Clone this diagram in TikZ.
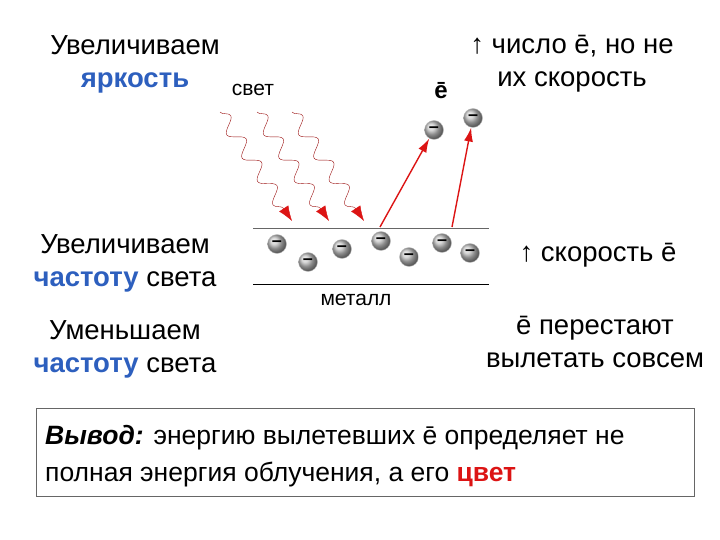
\documentclass[tikz,border=0pt]{standalone}
\usepackage{fontspec}
\setmainfont{Liberation Sans}
\usetikzlibrary{decorations.pathmorphing,arrows.meta}
\definecolor{myblue}{RGB}{45,95,190}
\definecolor{myred}{RGB}{220,20,20}
\begin{document}
\begin{tikzpicture}[x=1pt,y=-1pt,
  lbl/.style={font=\fontsize{27.5}{33}\selectfont,align=center,inner sep=0},
  el/.style={circle,minimum size=19,inner sep=0,ball color=gray!45,draw=gray!50,
     font=\bfseries\fontsize{18}{18}\selectfont,text=black},
  wave/.style={myred!70!black,thin,decorate,decoration={snake,amplitude=7,segment length=28,post length=14},-{Latex[length=15,width=11,fill=myred,color=myred]}},
  shoot/.style={myred,line width=1.4,-{Latex[length=14,width=9]}}]
\useasboundingbox (0,0) rectangle (720,540);
\node[lbl] (t1) at (135,64) {Увеличиваем\\\textcolor{myblue}{\textbf{яркость}}};
\node[font=\fontsize{21}{21}\selectfont] (svet) at (253,90) {свет};
\node[font=\bfseries\fontsize{24}{24}\selectfont] (ebar) at (441,91) {ē};
\node[lbl] (t2) at (572,64) {↑ число ē, но не\\их скорость};
\node[lbl] (t3) at (125,263) {Увеличиваем\\\textcolor{myblue}{\textbf{частоту}} света};
\node[lbl] (t4) at (598,255) {↑ скорость ē};
\node[lbl] (t5) at (125,349) {Уменьшаем\\\textcolor{myblue}{\textbf{частоту}} света};
\node[lbl] (t6) at (595,342) {ē перестают\\вылетать совсем};
\coordinate (m1) at (253,229); \coordinate (m2) at (489,229);
\coordinate (m3) at (253,284); \coordinate (m4) at (489,284);
\draw[gray!80!black,line width=1] (m1) -- (m2);
\draw[line width=1] (m3) -- (m4);
\node[font=\fontsize{21}{21}\selectfont] (met) at (356,300) {металл};
\foreach \n/\x/\y in {a/277/244,b/308/262,c/342/249,d/381/241,e/409/257,f/442/243,g/470/253,h/434/130,i/473/118}
  \node[el] (e\n) at (\x,\y) {–};
\foreach \n/\x in {1/220,2/257,3/292}{
  \coordinate (ws\n) at (\x,112);
  \coordinate (we\n) at (\x+72,221);
  \draw[wave] (ws\n) -- (we\n);}
\coordinate (s1) at (380,227); \coordinate (s2) at (452,227);
\draw[shoot] (s1) -- (eh);
\draw[shoot] (s2) -- (ei);
\node[draw=gray!80!black,line width=1,minimum width=658,minimum height=88,anchor=north west,inner sep=0] (box) at (36,408) {};
\node[anchor=west,align=left,inner sep=0,font=\fontsize{26.5}{37}\selectfont] (txt) at (45,456)
 {\textbf{\textit{Вывод:}} энергию вылетевших ē определяет не\\полная энергия облучения, а его \textcolor{myred}{\textbf{цвет}}};
\end{tikzpicture}
\end{document}
